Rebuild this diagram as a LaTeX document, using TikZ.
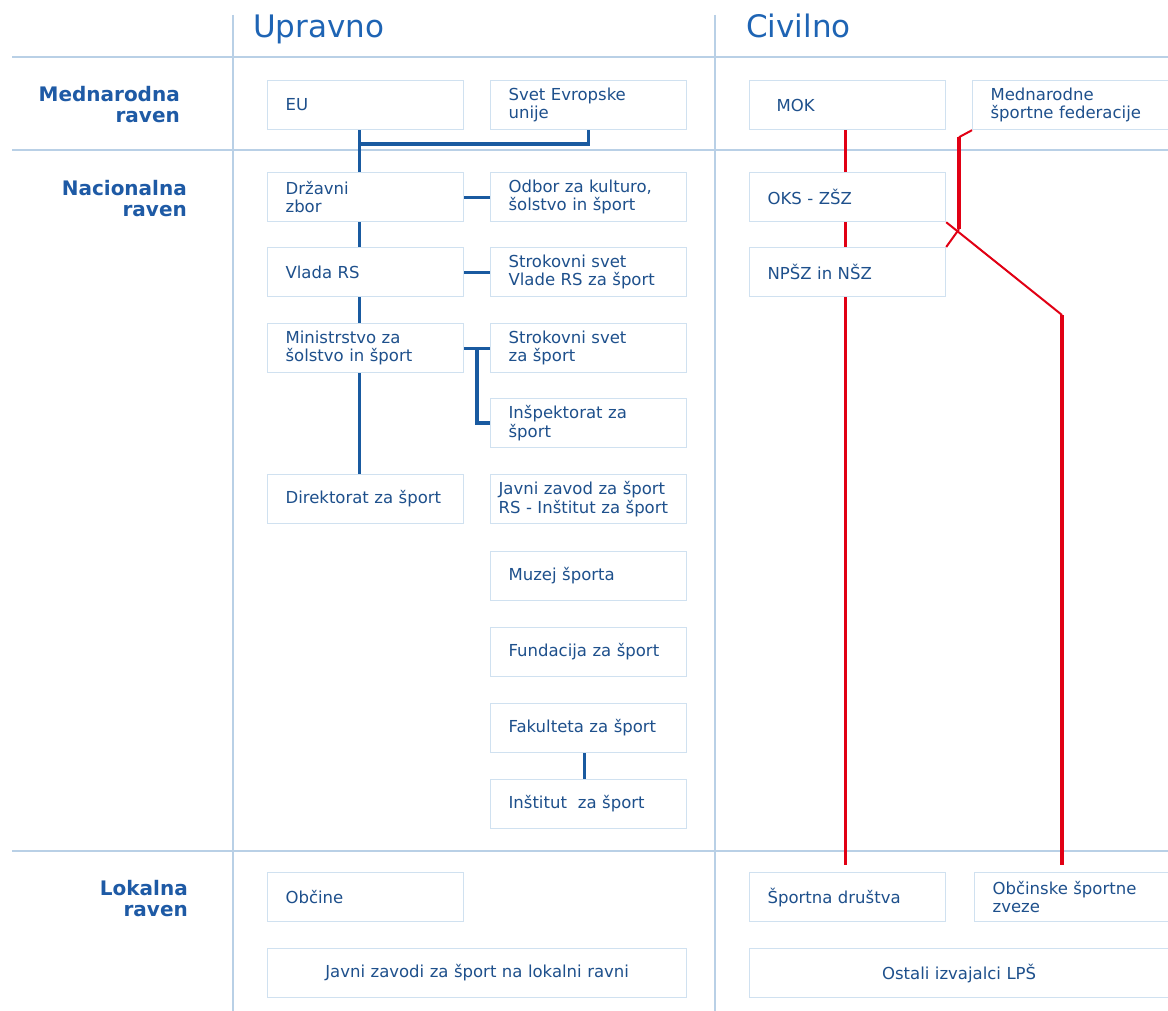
\documentclass[tikz,border=0pt]{standalone}
\usepackage{fontspec}
\setmainfont{DejaVu Sans}
\usepackage{tikz}
\usetikzlibrary{calc,positioning}
\definecolor{frameblue}{RGB}{185,208,230}
\definecolor{unitline}{RGB}{208,225,240}
\definecolor{unittext}{RGB}{30,80,140}
\definecolor{headblue}{RGB}{30,100,180}
\definecolor{tierblue}{RGB}{30,90,165}
\definecolor{linkblue}{RGB}{25,90,160}
\definecolor{linkred}{RGB}{225,0,20}
\newcommand{\unitfont}{\fontsize{16.5}{18.3}\selectfont}
\newcommand{\tierfont}{\fontsize{20}{21}\selectfont\bfseries}
\newcommand{\headfont}{\fontsize{31}{34}\selectfont}

\begin{document}
\begin{tikzpicture}
		[x=1pt,y=-1pt,
		unit/.style={draw=unitline,fill=white,line width=1.2pt,minimum width=196pt,
			minimum height=49pt,inner xsep=0pt,inner ysep=2pt,text width=160pt,
			align=left,anchor=north west,font=\unitfont,text=unittext},
		wideunit/.style={unit,minimum width=419pt,text width=400pt,align=center},
		frameline/.style={draw=frameblue,line width=1.5pt},
		bluelink/.style={draw=linkblue,line width=3.5pt},
		redlink/.style={draw=linkred,line width=3.5pt},
		redslant/.style={draw=linkred,line width=2pt},
		tier/.style={font=\tierfont,text=tierblue,align=right,anchor=east,inner sep=0pt},
		colhead/.style={font=\headfont,text=headblue,anchor=base west,inner sep=0pt}]
		\useasboundingbox (0,0) rectangle (1168,1011);
		\fill[white] (0,0) rectangle (1168,1011);
		\draw[frameline] (233,15) -- (233,1011);
		\draw[frameline] (715,15) -- (715,1011);
		\foreach \rowy in {57,150,851}
		{
			\draw[frameline] (12,\rowy) -- (1168,\rowy);
		}
		\node[colhead] (upravno) at (253,38) {Upravno};
		\node[colhead] (civilno) at (746,38) {Civilno};
		\node[tier] (intl) at (180,105) {Mednarodna\\raven};
		\node[tier] (natl) at (187,199) {Nacionalna\\raven};
		\node[tier] (locl) at (188,899) {Lokalna\\raven};
		\node[unit] (eu) at (267,80) {EU};
		\node[unit] (svet) at (490,80) {Svet Evropske\\unije};
		\node[unit] (zbor) at (267,172) {Državni\\zbor};
		\node[unit] (odbor) at (490,172) {Odbor za kulturo,\\šolstvo in šport};
		\node[unit] (vlada) at (267,247) {Vlada RS};
		\node[unit] (vladasvet) at (490,247) {Strokovni svet\\Vlade RS za šport};
		\node[unit] (mss) at (267,323) {Ministrstvo za\\šolstvo in šport};
		\node[unit] (msssvet) at (490,323) {Strokovni svet\\za šport};
		\node[unit] (insp) at (490,398) {Inšpektorat za\\šport};
		\node[unit] (direktorat) at (267,474) {Direktorat za šport};
		\node[unit,text width=180pt] (zavod) at (490,474) {Javni zavod za šport\\RS - Inštitut za šport};
		\node[unit] (muzej) at (490,551) {Muzej športa};
		\node[unit] (fundacija) at (490,627) {Fundacija za šport};
		\node[unit] (fakulteta) at (490,703) {Fakulteta za šport};
		\node[unit] (institut) at (490,779) {Inštitut\ \ za šport};
		\node[unit] (obcine) at (267,872) {Občine};
		\node[wideunit] (lokalzavodi) at (267,948) {Javni zavodi za šport na lokalni ravni};
		\node[unit,text width=142pt] (mok) at (749,80) {MOK};
		\node[unit] (fed) at (972,80) {Mednarodne\\športne federacije};
		\node[unit] (oks) at (749,172) {OKS - ZŠZ};
		\node[unit] (npsz) at (749,247) {NPŠZ in NŠZ};
		\node[unit] (drustva) at (749,872) {Športna društva};
		\node[unit] (zveze) at (974,872) {Občinske športne\\zveze};
		\node[wideunit] (ostali) at (749,948) {Ostali izvajalci LPŠ};
		\foreach \src/\dst in {eu/zbor,zbor/vlada,vlada/mss,mss/direktorat}
		{
			\draw[bluelink] ([xshift=-6pt]\src.south) -- ([xshift=-6pt]\dst.north);
		}
		\draw[bluelink] (svet.south) -- ++(0,14) -| ([xshift=-6pt]zbor.north);
		\foreach \src/\dst in {zbor/odbor,vlada/vladasvet,mss/msssvet}
		{
			\draw[bluelink,line width=3pt] (\src.east) -- (\dst.west);
		}
		\draw[bluelink] ([xshift=13pt]mss.east) |- (insp.west);
		\draw[bluelink] ([xshift=-4pt]fakulteta.south) -- ([xshift=-4pt]institut.north);
		\foreach \src/\dst in {mok/oks,oks/npsz}
		{
			\draw[redlink] ([xshift=-2pt]\src.south) -- ([xshift=-2pt]\dst.north);
		}
		\draw[redlink,shorten >=7pt] ([xshift=-2pt]npsz.south) -- ([xshift=-2pt]drustva.north);
		\coordinate (fedtop) at ($(fed.south west)+(-13,7)$);
		\coordinate (fedlow) at ($(fed.south west)+(-13,99)$);
		\draw[redslant] (fed.south west) -- (fedtop);
		\draw[redlink] (fedtop) -- (fedlow);
		\draw[redslant] (fedlow) -- (npsz.north east);
		\coordinate (zvezebend) at (1062,315);
		\draw[redslant] (oks.south east) -- (zvezebend);
		\draw[redlink,shorten >=7pt] (zvezebend) -- (zvezebend |- zveze.north);
\end{tikzpicture}
\end{document}
